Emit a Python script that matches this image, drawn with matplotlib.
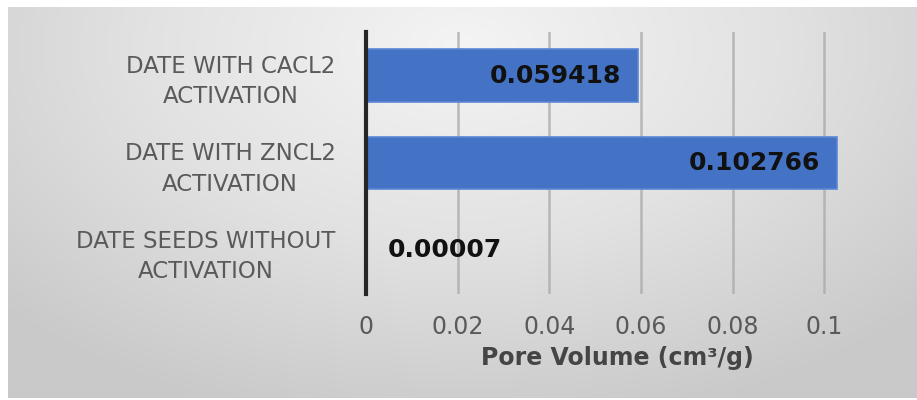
import numpy as np
import matplotlib
matplotlib.use("Agg")
import matplotlib.pyplot as plt
from matplotlib.colors import LinearSegmentedColormap

# Data
categories = ["DATE SEEDS WITHOUT\nACTIVATION",
              "DATE WITH ZNCL2\nACTIVATION",
              "DATE WITH CACL2\nACTIVATION"]
pore_volume = [0.00007, 0.102766, 0.059418]
value_labels = ["0.00007", "0.102766", "0.059418"]
x_ticks = [0, 0.02, 0.04, 0.06, 0.08, 0.1]
x_tick_labels = ["0", "0.02", "0.04", "0.06", "0.08", "0.1"]

W, H = 917, 400
fig = plt.figure(figsize=(W / 100, H / 100), dpi=100, facecolor="white")

# Soft grey radial backdrop
bg = fig.add_axes([8 / W, 2 / H, 909 / W, 391 / H], zorder=-10)
gx, gy = np.meshgrid(np.linspace(0, 1, 400), np.linspace(0, 1, 200))
r = np.sqrt(((gx - 0.5) / 0.7) ** 2 + ((gy - 0.1) / 1.0) ** 2)
cmap = LinearSegmentedColormap.from_list("bg", ["#f4f4f4", "#e2e2e2", "#c9c9c9"])
bg.imshow(r, cmap=cmap, aspect="auto", extent=[0, 1, 1, 0], vmin=0, vmax=1.0)
bg.axis("off")

ax = fig.add_axes([366 / W, 1 - 294 / H, 550 / W, 262 / H])
ax.patch.set_alpha(0)

y = np.arange(len(categories))
ax.barh(y, pore_volume, height=0.6, color="#4472C4", edgecolor="#5b86d6",
        linewidth=1.2, zorder=3)

ax.set_xlim(0, 0.12)
ax.set_ylim(-0.5, len(categories) - 0.5)
ax.set_xticks(x_ticks)
ax.set_xticklabels(x_tick_labels)
ax.set_yticks(y)
ax.set_yticklabels(categories, multialignment="center")

ax.xaxis.grid(True, color="#ababab", linewidth=1.8, alpha=0.8, zorder=0)
ax.set_axisbelow(True)
for s in ["top", "right", "bottom"]:
    ax.spines[s].set_visible(False)
ax.spines["left"].set_color("#262626")
ax.spines["left"].set_linewidth(3)
ax.spines["left"].set_zorder(4)

ax.tick_params(axis="x", length=0, pad=15, labelsize=17, labelcolor="#5a5a5a")
ax.tick_params(axis="y", length=0, pad=22, labelsize=16.5, labelcolor="#5a5a5a")
for t in ax.get_yticklabels():
    t.set_linespacing(1.4)

# Value labels
for yi, v, lab in zip(y, pore_volume, value_labels):
    if v > 0.01:
        ax.text(v - 0.0037, yi, lab, ha="right", va="center", fontsize=18,
                fontweight="bold", color="#111111", zorder=5)
    else:
        ax.text(0.0048, yi, lab, ha="left", va="center", fontsize=18,
                fontweight="bold", color="#111111", zorder=5)

fig.text(617 / W, 1 - 358 / H, "Pore Volume (cm³/g)", ha="center",
         va="center", fontsize=17, fontweight="bold", color="#454545")

fig.savefig("out.png", dpi=100, facecolor="white")
